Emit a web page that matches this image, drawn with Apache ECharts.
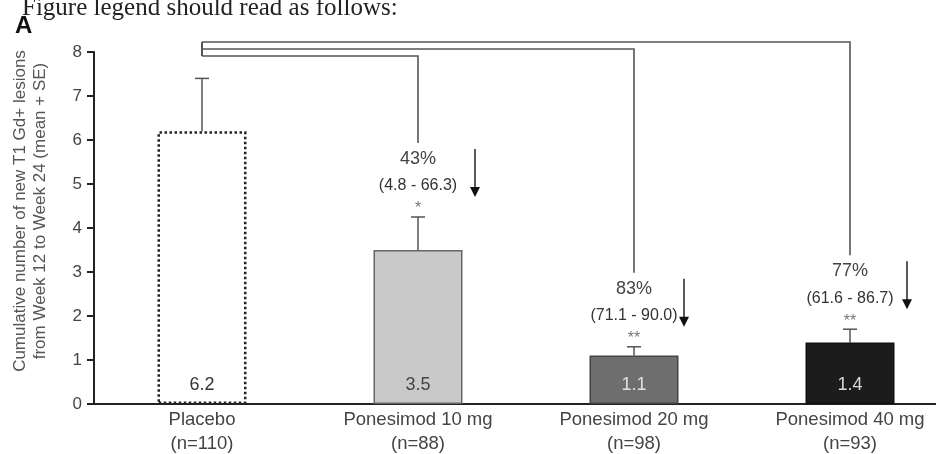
<!DOCTYPE html>
<html>
<head>
<meta charset="utf-8">
<script src="https://cdn.jsdelivr.net/npm/echarts@6/dist/echarts.min.js"></script>
<style>
html,body{margin:0;padding:0;background:#fff;}
#chart{width:936px;height:454px;}
</style>
</head>
<body>
<div id="chart"></div>
<script>
// ---- data ----
var categories = ['Placebo', 'Ponesimod 10 mg', 'Ponesimod 20 mg', 'Ponesimod 40 mg'];
var nLabels = ['(n=110)', '(n=88)', '(n=98)', '(n=93)'];
var means = [6.2, 3.5, 1.1, 1.4];
var seTops = [7.4, 4.25, 1.3, 1.7];
var pctReduction = ['', '43%', '83%', '77%'];
var ciLabels = ['', '(4.8 - 66.3)', '(71.1 - 90.0)', '(61.6 - 86.7)'];
var sigLabels = ['', '*', '**', '**'];
var yTicks = [0, 1, 2, 3, 4, 5, 6, 7, 8];

// ---- styles ----
var barStyles = [
  {color: '#ffffff', borderColor: '#222', borderWidth: 2.5, borderType: 'dotted'},
  {color: '#c9c9c9', borderColor: '#666', borderWidth: 1.5},
  {color: '#6e6e6e', borderColor: '#444', borderWidth: 1.5},
  {color: '#1c1c1c', borderColor: '#111', borderWidth: 1.5}
];
var labelColors = ['#333', '#444', '#e0e0e0', '#d8d8d8'];
var FONT = '"Liberation Sans", Arial, sans-serif';

var chart = echarts.init(document.getElementById('chart'));

var barData = means.map(function (v, i) {
  return {
    value: v,
    itemStyle: barStyles[i],
    label: {color: labelColors[i]}
  };
});

var errData = means.map(function (v, i) { return [i, v, seTops[i]]; });
var annData = [];
for (var k = 1; k < categories.length; k++) annData.push([k, seTops[k]]);

var bracketOffsets = {1: 4, 2: -3, 3: -10};
var arrowDx = {1: 57, 2: 50, 3: 57};

var option = {
  animation: false,
  backgroundColor: '#ffffff',
  grid: {left: 94, top: 52, bottom: 50, width: 864, containLabel: false, outerBoundsMode: 'none'},
  graphic: [
    {type: 'text', left: 22, top: -4, style: {text: 'Figure legend should read as follows:', font: '25px "Liberation Serif", "Times New Roman", serif', fill: '#222'}},
    {type: 'text', left: 15, top: 14, style: {text: 'A', font: 'bold 24px "Liberation Sans", Arial, sans-serif', fill: '#111'}}
  ],
  xAxis: {
    type: 'category',
    data: categories,
    boundaryGap: true,
    axisLine: {show: true, lineStyle: {color: '#222', width: 2}},
    axisTick: {show: false},
    axisLabel: {
      interval: 0,
      margin: 4,
      fontFamily: FONT,
      fontSize: 18.5,
      color: '#444',
      lineHeight: 24,
      formatter: function (val, idx) { return val + '\n' + nLabels[idx]; }
    }
  },
  yAxis: {
    type: 'value',
    min: 0,
    max: 8,
    interval: 1,
    name: 'Cumulative number of new T1 Gd+ lesions\nfrom Week 12 to Week 24 (mean + SE)',
    nameLocation: 'middle',
    nameRotate: 90,
    nameGap: 44,
    nameTextStyle: {fontFamily: FONT, fontSize: 17, color: '#555', lineHeight: 20, padding: [0, 0, 0, 34]},
    axisLine: {show: true, lineStyle: {color: '#222', width: 2}},
    axisTick: {show: true, length: 7, lineStyle: {color: '#222', width: 2}},
    splitLine: {show: false},
    axisLabel: {fontFamily: FONT, fontSize: 17, color: '#444', margin: 12,
      formatter: function (v) { return yTicks.indexOf(v) >= 0 ? String(v) : ''; }}
  },
  series: [
    {
      type: 'bar',
      data: barData,
      barWidth: 89,
      label: {show: true, position: 'insideBottom', distance: 10, fontFamily: FONT, fontSize: 18,
        formatter: function (p) { return p.value.toFixed(1); }},
      z: 2
    },
    {
      type: 'custom',
      data: errData,
      z: 1,
      renderItem: function (params, api) {
        var b = api.coord([api.value(0), api.value(1)]);
        var t = api.coord([api.value(0), api.value(2)]);
        var s = {stroke: '#555', lineWidth: 1.5};
        return {type: 'group', children: [
          {type: 'line', shape: {x1: b[0], y1: b[1], x2: t[0], y2: t[1]}, style: s},
          {type: 'line', shape: {x1: t[0] - 7, y1: t[1], x2: t[0] + 7, y2: t[1]}, style: s}
        ]};
      }
    },
    {
      type: 'custom',
      data: annData,
      clip: false,
      z: 3,
      renderItem: function (params, api) {
        var i = api.value(0);
        var t = api.coord([i, api.value(1)]);
        var x = t[0], yTop = t[1];
        var x0 = api.coord([0, 0])[0];
        var yMax = api.coord([0, 8])[1];
        var yB = yMax + bracketOffsets[i];
        var yPct = yTop - 58;
        var yCi = yTop - 31;
        var ySig = yTop - 10;
        var ax = x + arrowDx[i];
        var ay1 = yPct - 10, ay2 = yTop - 20;
        var ls = {stroke: '#555', lineWidth: 1.6, fill: null};
        var children = [
          {type: 'polyline', shape: {points: [[x0, yB], [x, yB], [x, yPct - 16]]}, style: ls},
          {type: 'line', shape: {x1: x0, y1: yMax - 10, x2: x0, y2: yMax + 4}, style: ls},
          {type: 'text', x: x, y: yPct, style: {text: pctReduction[i], font: '18px ' + FONT, fill: '#444', align: 'center', verticalAlign: 'middle'}},
          {type: 'text', x: x, y: yCi, style: {text: ciLabels[i], font: '16px ' + FONT, fill: '#333', align: 'center', verticalAlign: 'middle'}},
          {type: 'text', x: x, y: ySig + 2, style: {text: sigLabels[i], font: '16px ' + FONT, fill: '#777', align: 'center', verticalAlign: 'middle'}},
          {type: 'line', shape: {x1: ax, y1: ay1, x2: ax, y2: ay2 - 8}, style: {stroke: '#222', lineWidth: 1.5}},
          {type: 'polygon', shape: {points: [[ax - 5, ay2 - 10], [ax + 5, ay2 - 10], [ax, ay2]]}, style: {fill: '#111'}}
        ];
        return {type: 'group', children: children};
      }
    }
  ]
};
chart.setOption(option);
</script>
</body>
</html>
